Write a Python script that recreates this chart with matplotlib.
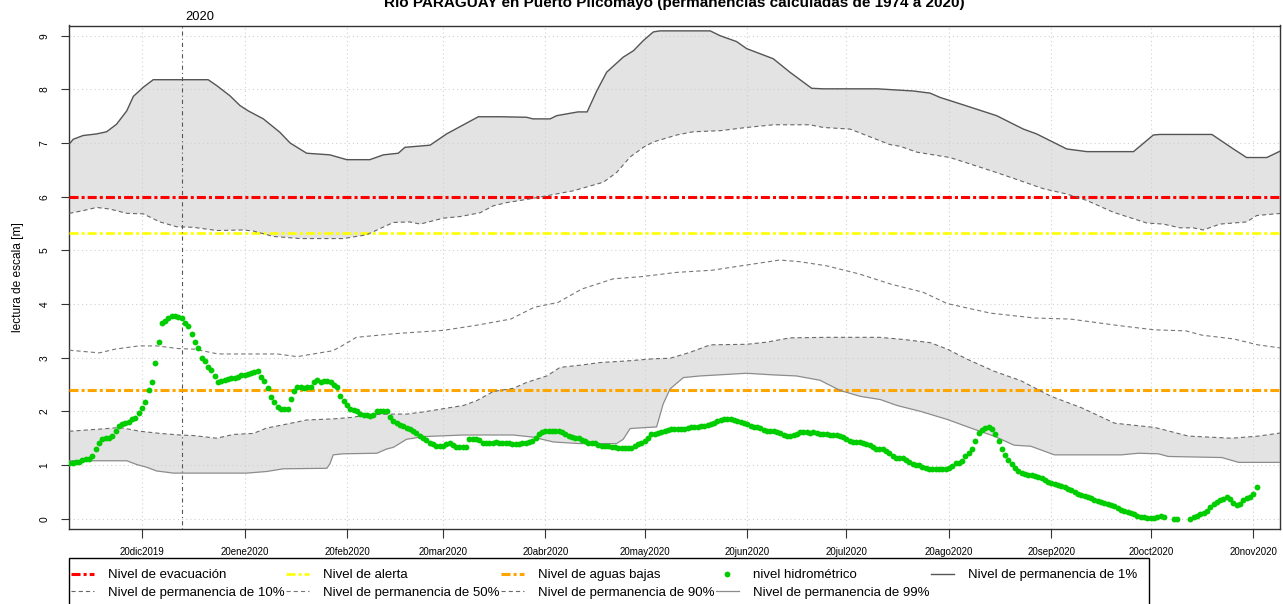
import numpy as np
import pandas as pd
import matplotlib
matplotlib.use("Agg")
import matplotlib.pyplot as plt
import matplotlib.dates as mdates
from matplotlib.lines import Line2D
from matplotlib.patches import Rectangle

plt.rcParams['font.family'] = ['Liberation Sans', 'DejaVu Sans']
plt.rcParams['lines.scale_dashes'] = False

nan = np.nan
# ---------------- data ----------------
inicio = pd.Timestamp("2019-11-28")          # day 0 of the series
titulo = "Río PARAGUAY en Puerto Pilcomayo (permanencias calculadas de 1974 a 2020)"

# permanence curves: day offset from 'inicio' and level [m]
p1_dias = [0, 1.2, 4.2, 8.3, 11.3, 14.3, 17.4, 19.4, 22.4, 25.4, 42.0, 44.6, 48.6, 51.6, 54.1,
           58.7, 63.7, 66.8, 71.8, 78.8, 83.9, 90.9, 95.0, 99.5, 101.5, 109.1, 114.1, 119.2, 123.7,
           130.3, 138.3, 140.2, 145.4, 147.4, 153.8, 156.6, 159.5, 162.5, 167.5, 170.6, 173.6, 176.6,
           178.6, 193.8, 196.8, 201.8, 204.8, 212.9, 217.9, 224.5, 228, 244.3, 255.2, 260.3, 263.3,
           270.4, 280.4, 288.5, 292.5, 301.6, 307.7, 321.8, 327.8, 329.8, 345.5, 352.0, 356.0, 362.1, 366.5]
p1_val = [6.98, 7.07, 7.14, 7.17, 7.21, 7.35, 7.60, 7.87, 8.04, 8.18, 8.18, 8.07, 7.88, 7.70, 7.60,
          7.45, 7.20, 7.00, 6.81, 6.78, 6.69, 6.69, 6.78, 6.81, 6.92, 6.96, 7.17, 7.34, 7.49,
          7.49, 7.48, 7.45, 7.45, 7.51, 7.58, 7.58, 7.97, 8.32, 8.60, 8.72, 8.91, 9.07,
          9.09, 9.09, 9.00, 8.89, 8.76, 8.57, 8.32, 8.02, 8.01, 8.01, 7.97, 7.93, 7.85,
          7.71, 7.51, 7.26, 7.17, 6.89, 6.84, 6.84, 7.15, 7.16, 7.16, 6.89, 6.73, 6.73, 6.86]

p10_dias = [0, 4.2, 8.3, 12.3, 17.4, 22.4, 27.4, 32.5, 37.5, 44.6, 52.6, 55.7, 61.7, 69.8, 82.9,
            89.9, 98.0, 103.0, 106.1, 113.1, 118.2, 124.2, 128.2, 132.3, 140.3, 152.4, 161.5, 165.5,
            169.6, 173.6, 176.6, 183.7, 188.7, 196.8, 204.8, 212.9, 224.0, 228.0, 236.1, 241.1, 248.2,
            251.2, 256.3, 266.3, 271.4, 280.4, 287.5, 294.5, 301.6, 307.7, 315.7, 325.8, 330.8, 335.9,
            339.9, 342.9, 348.0, 356.0, 359.1, 366.5]
p10_val = [5.69, 5.74, 5.80, 5.77, 5.69, 5.68, 5.53, 5.44, 5.43, 5.37, 5.38, 5.36, 5.26, 5.22, 5.22,
           5.29, 5.52, 5.53, 5.49, 5.60, 5.63, 5.70, 5.83, 5.89, 5.97, 6.11, 6.27, 6.45,
           6.74, 6.92, 7.02, 7.15, 7.21, 7.23, 7.29, 7.34, 7.34, 7.29, 7.26, 7.14, 6.97,
           6.94, 6.83, 6.73, 6.63, 6.45, 6.30, 6.15, 6.05, 5.93, 5.71, 5.51, 5.49, 5.42,
           5.42, 5.38, 5.49, 5.53, 5.65, 5.69]

p50_dias = [0, 9.1, 13.9, 21.1, 26.5, 33.1, 37.8, 45.0, 62.9, 68.9, 79.7, 83.3, 86.8, 98.8, 113.1,
            122.7, 133.5, 140.6, 147.8, 155.0, 164.5, 172.9, 183.7, 194.3, 205.1, 214.8, 220.8, 229.2,
            238.9, 248.5, 258.2, 265.4, 278.6, 291.9, 302.7, 317.2, 328.0, 337.7, 342.5, 352.1, 359.4, 366.5]
p50_val = [3.14, 3.09, 3.16, 3.22, 3.22, 3.17, 3.16, 3.07, 3.07, 3.02, 3.13, 3.25, 3.38, 3.45, 3.51,
           3.60, 3.72, 3.94, 4.03, 4.28, 4.47, 4.51, 4.59, 4.63, 4.73, 4.82, 4.79, 4.71,
           4.56, 4.37, 4.22, 4.01, 3.83, 3.74, 3.72, 3.60, 3.52, 3.50, 3.42, 3.35, 3.24, 3.18]

p90_dias = [0, 9.3, 15.3, 21.4, 27.4, 33.5, 37.5, 44.6, 49.6, 55.7, 59.7, 64.7, 71.8, 79.8, 85.9,
            89.9, 98, 102, 107.1, 114.1, 119.2, 123.2, 128.2, 134.3, 138.3, 144.4, 148.4, 154.4,
            160.5, 168.6, 176.6, 181.7, 187.7, 193.8, 204.8, 210.9, 217.9, 229.0, 245, 252.3, 260.4,
            265.5, 271.6, 279.6, 287.8, 296.9, 306.0, 316.1, 328.3, 338.4, 351.5, 359.6, 366.5]
p90_val = [1.63, 1.67, 1.70, 1.63, 1.59, 1.56, 1.55, 1.50, 1.57, 1.59, 1.69, 1.75, 1.84, 1.86, 1.89,
           1.94, 1.95, 1.95, 1.99, 2.06, 2.11, 2.20, 2.37, 2.43, 2.54, 2.66, 2.82, 2.86,
           2.91, 2.94, 2.98, 2.99, 3.10, 3.24, 3.25, 3.29, 3.37, 3.38, 3.38, 3.34, 3.28,
           3.16, 2.97, 2.75, 2.57, 2.28, 2.07, 1.78, 1.70, 1.54, 1.50, 1.54, 1.60]

p99_dias = [0, 17.4, 20.4, 23.4, 26.4, 31.5, 53.7, 59.7, 64.7, 77.9, 78.8, 79.8, 82.9, 93.0, 96.0,
            98, 102, 107.1, 119.2, 134.3, 140.3, 146.4, 154.4, 165.5, 167.5, 169.6, 174.6, 177.6,
            179.6, 181.7, 185.7, 190.7, 204.8, 212.9, 219.9, 227.0, 233.1, 239.2, 245.3, 250.3,
            257.4, 265.5, 272.6, 279.6, 285.7, 290.8, 297.9, 318.1, 323.2, 329.3, 332.3, 348.5, 353.6, 366.5]
p99_val = [1.08, 1.08, 1.01, 0.96, 0.89, 0.85, 0.85, 0.88, 0.93, 0.94, 1.02, 1.19, 1.21, 1.22, 1.30,
           1.33, 1.48, 1.53, 1.56, 1.56, 1.52, 1.43, 1.40, 1.40, 1.48, 1.68, 1.70, 1.71,
           2.14, 2.42, 2.63, 2.66, 2.71, 2.68, 2.66, 2.58, 2.39, 2.28, 2.22, 2.11,
           2.00, 1.85, 1.69, 1.54, 1.37, 1.35, 1.19, 1.19, 1.22, 1.21, 1.16, 1.14, 1.05, 1.05]

# daily hydrometric level from 'inicio'
nivel = [
    1.04, 1.04, 1.05, 1.05, 1.10, 1.11, 1.12, 1.17, 1.30, 1.42,
    1.48, 1.50, 1.51, 1.55, 1.63, 1.72, 1.77, 1.78, 1.80, 1.86,
    1.88, 1.97, 2.06, 2.17, 2.40, 2.55, 2.90, 3.30, 3.65, 3.68,
    3.74, 3.78, 3.78, 3.76, 3.74, 3.65, 3.60, 3.44, 3.29, 3.18,
    2.99, 2.93, 2.83, 2.78, 2.66, 2.55, 2.57, 2.59, 2.60, 2.62,
    2.63, 2.65, 2.67, 2.68, 2.70, 2.72, 2.73, 2.76, 2.64, 2.57,
    2.43, 2.26, 2.17, 2.09, 2.05, 2.04, 2.04, 2.23, 2.38, 2.46,
    2.45, 2.44, 2.45, 2.46, 2.54, 2.59, 2.54, 2.56, 2.57, 2.55,
    2.49, 2.45, 2.29, 2.20, 2.11, 2.05, 2.03, 2.00, 1.96, 1.94,
    1.93, 1.92, 1.94, 2.00, 2.01, 2.01, 2.00, 1.90, 1.83, 1.78,
    1.75, 1.72, 1.69, 1.67, 1.63, 1.59, 1.55, 1.51, 1.47, 1.42,
    1.39, 1.36, 1.36, 1.36, 1.39, 1.42, 1.38, 1.34, 1.34, 1.34,
    1.34, 1.48, 1.48, 1.48, 1.47, 1.42, 1.42, 1.42, 1.42, 1.43,
    1.42, 1.42, 1.42, 1.41, 1.40, 1.40, 1.40, 1.41, 1.42, 1.43,
    1.44, 1.50, 1.58, 1.62, 1.64, 1.64, 1.64, 1.64, 1.63, 1.61,
    1.58, 1.55, 1.52, 1.51, 1.50, 1.47, 1.44, 1.42, 1.42, 1.41,
    1.37, 1.35, 1.35, 1.35, 1.34, 1.33, 1.31, 1.31, 1.31, 1.31,
    1.32, 1.35, 1.39, 1.42, 1.44, 1.50, 1.58, 1.58, 1.60, 1.62,
    1.64, 1.65, 1.67, 1.67, 1.68, 1.67, 1.68, 1.69, 1.71, 1.71,
    1.71, 1.72, 1.72, 1.74, 1.76, 1.79, 1.82, 1.84, 1.85, 1.85,
    1.85, 1.84, 1.83, 1.81, 1.78, 1.76, 1.72, 1.71, 1.71, 1.69,
    1.66, 1.64, 1.64, 1.63, 1.62, 1.59, 1.56, 1.55, 1.55, 1.56,
    1.58, 1.61, 1.61, 1.61, 1.60, 1.61, 1.60, 1.58, 1.57, 1.57,
    1.56, 1.56, 1.56, 1.55, 1.52, 1.48, 1.44, 1.43, 1.43, 1.43,
    1.42, 1.40, 1.38, 1.33, 1.30, 1.29, 1.29, 1.27, 1.22, 1.16,
    1.14, 1.14, 1.13, 1.10, 1.05, 1.02, 1.01, 1.00, 0.97, 0.95,
    0.93, 0.93, 0.92, 0.92, 0.92, 0.93, 0.95, 0.99, 1.03, 1.04,
    1.08, 1.16, 1.22, 1.29, 1.44, 1.60, 1.66, 1.69, 1.70, 1.68,
    1.58, 1.45, 1.30, 1.19, 1.10, 1.02, 0.94, 0.89, 0.85, 0.83,
    0.82, 0.81, 0.80, 0.78, 0.75, 0.72, 0.69, 0.67, 0.65, 0.63,
    0.61, 0.59, 0.56, 0.53, 0.50, 0.47, 0.44, 0.42, 0.40, 0.38,
    0.35, 0.33, 0.31, 0.29, 0.27, 0.25, 0.23, 0.20, 0.17, 0.14,
    0.12, 0.10, 0.08, 0.06, 0.04, 0.03, 0.02, 0.02, 0.01, 0.04,
    0.05, 0.03, nan, nan, 0.00, 0.00, nan, nan, nan, 0.00,
    0.03, 0.06, 0.08, 0.10, 0.15, 0.22, 0.28, 0.32, 0.35, 0.37,
    0.40, 0.36, 0.30, 0.26, 0.28, 0.34, 0.38, 0.40, 0.46, 0.60,
]

nivel_evacuacion = 6.0
nivel_alerta = 5.33
nivel_aguas_bajas = 2.40
fecha_anio = pd.Timestamp("2020-01-01")

tick_fechas = ["2019-12-20", "2020-01-20", "2020-02-20", "2020-03-20", "2020-04-20", "2020-05-20",
               "2020-06-20", "2020-07-20", "2020-08-20", "2020-09-20", "2020-10-20", "2020-11-20"]
tick_etiquetas = ["20dic2019", "20ene2020", "20feb2020", "20mar2020", "20abr2020", "20may2020",
                  "20jun2020", "20jul2020", "20ago2020", "20sep2020", "20oct2020", "20nov2020"]

# ---------------- drawing ----------------
def xnum(dias):
    return mdates.date2num(inicio + pd.to_timedelta(np.asarray(dias, float), unit="D"))

W, H = 1283, 604
fig = plt.figure(figsize=(W / 100, H / 100), dpi=100)
ax = fig.add_axes([69 / W, 1 - 529.3 / H, (1280 - 69) / W, (529.3 - 25.5) / H])

fill_col = "#e3e3e3"
# upper band (1% - 10%)
ax.fill(np.concatenate([xnum(p1_dias), xnum(p10_dias)[::-1]]),
        np.concatenate([p1_val, p10_val[::-1]]), color=fill_col, lw=0, zorder=1)
# lower band (90% - 99%)
ax.fill(np.concatenate([xnum(p90_dias), xnum(p99_dias)[::-1]]),
        np.concatenate([p90_val, p99_val[::-1]]), color=fill_col, lw=0, zorder=1)

ax.set_axisbelow("line")
ax.grid(True, color="#d0d0d0", linestyle=(0, (0.8, 2.2)), lw=0.8)

dash_level = (0, (6.5, 2.2, 2.2, 2.2))
ax.axhline(nivel_evacuacion, color="#ff0000", lw=2.2, linestyle=dash_level, zorder=3)
ax.axhline(nivel_alerta, color="#ffff00", lw=1.9, linestyle=dash_level, zorder=3)
ax.axhline(nivel_aguas_bajas, color="#ffa500", lw=2.2, linestyle=dash_level, zorder=3)

dash_p = (0, (3.0, 2.2))
st = {
    "p1": dict(color="#555555", lw=1.0, linestyle="-"),
    "p10": dict(color="#666666", lw=0.8, linestyle=dash_p),
    "p50": dict(color="#777777", lw=0.8, linestyle=dash_p),
    "p90": dict(color="#6a6a6a", lw=0.8, linestyle=dash_p),
    "p99": dict(color="#8c8c8c", lw=0.9, linestyle="-"),
}
ax.plot(xnum(p1_dias), p1_val, zorder=4, **st["p1"])
ax.plot(xnum(p10_dias), p10_val, zorder=4, **st["p10"])
ax.plot(xnum(p50_dias), p50_val, zorder=4, **st["p50"])
ax.plot(xnum(p90_dias), p90_val, zorder=4, **st["p90"])
ax.plot(xnum(p99_dias), p99_val, zorder=4, **st["p99"])

verde = "#00cd00"
ax.plot(xnum(np.arange(len(nivel))), nivel, linestyle="none", marker="o", ms=4.2,
        mew=0, color=verde, zorder=5)

ax.axvline(mdates.date2num(fecha_anio), color="#555555", lw=0.8,
           linestyle=(0, (0.8, 2.2, 3.0, 2.2)), zorder=4)
ax.annotate("2020", xy=(mdates.date2num(fecha_anio), 1), xycoords=("data", "axes fraction"),
            xytext=(2.5, 3.6), textcoords="offset points", ha="left", va="baseline", fontsize=9.3)

ax.set_xlim(xnum([-0.07])[0], xnum([366.1])[0])
ax.set_ylim(-0.197, 9.19)
ax.set_xticks(mdates.date2num(pd.to_datetime(tick_fechas)))
ax.set_xticklabels(tick_etiquetas)
ax.set_yticks(range(10))
ax.tick_params(axis="x", direction="out", length=6.5, width=0.8, labelsize=7, pad=6,
               color="#333333")
ax.tick_params(axis="y", direction="out", length=5.5, width=0.8, labelsize=7.4, pad=8.5,
               color="#333333")
for lab in ax.get_yticklabels():
    lab.set_rotation(90)
    lab.set_va("center")
for sp in ax.spines.values():
    sp.set_color("#333333")
    sp.set_linewidth(1.0)

ax.set_ylabel("lectura de escala [m]", fontsize=8.6)
ax.yaxis.set_label_coords((24 - 69) / 1211, 0.5)

fig.text(674 / W, 1 - 7.5 / H, titulo, ha="center", va="baseline", fontsize=11,
         fontweight="bold")

# legend (column-wise order), frame drawn separately
h = {
    "evac": Line2D([], [], color="#ff0000", lw=2.2, linestyle=dash_level),
    "alerta": Line2D([], [], color="#ffff00", lw=1.9, linestyle=dash_level),
    "bajas": Line2D([], [], color="#ffa500", lw=2.2, linestyle=dash_level),
    "hidro": Line2D([], [], color=verde, linestyle="none", marker="o", ms=4.2, mew=0),
    "p1": Line2D([], [], **st["p1"]),
    "p10": Line2D([], [], **st["p10"]),
    "p50": Line2D([], [], **st["p50"]),
    "p90": Line2D([], [], **st["p90"]),
    "p99": Line2D([], [], **st["p99"]),
}
orden = [("evac", "Nivel de evacuación"), ("p10", "Nivel de permanencia de 10%"),
         ("alerta", "Nivel de alerta"), ("p50", "Nivel de permanencia de 50%"),
         ("bajas", "Nivel de aguas bajas"), ("p90", "Nivel de permanencia de 90%"),
         ("hidro", "nivel hidrométrico"), ("p99", "Nivel de permanencia de 99%"),
         ("p1", "Nivel de permanencia de 1%")]
leg = fig.legend([h[k] for k, _ in orden], [t for _, t in orden], loc="upper left",
                 bbox_to_anchor=(71.4 / W, 1 - 569.0 / H), bbox_transform=fig.transFigure,
                 ncol=5, frameon=False, fontsize=9.5, handlelength=1.71,
                 handletextpad=1.08, columnspacing=0.12, borderpad=0.0, labelspacing=0.39,
                 borderaxespad=0)
fig.add_artist(Rectangle((69.4 / W, -0.05), (1149 - 69.4) / W, (1 - 557.7 / H) + 0.05,
                         transform=fig.transFigure, fill=False, edgecolor="#000000", lw=1.0))

fig.savefig("out.png", dpi=100)
